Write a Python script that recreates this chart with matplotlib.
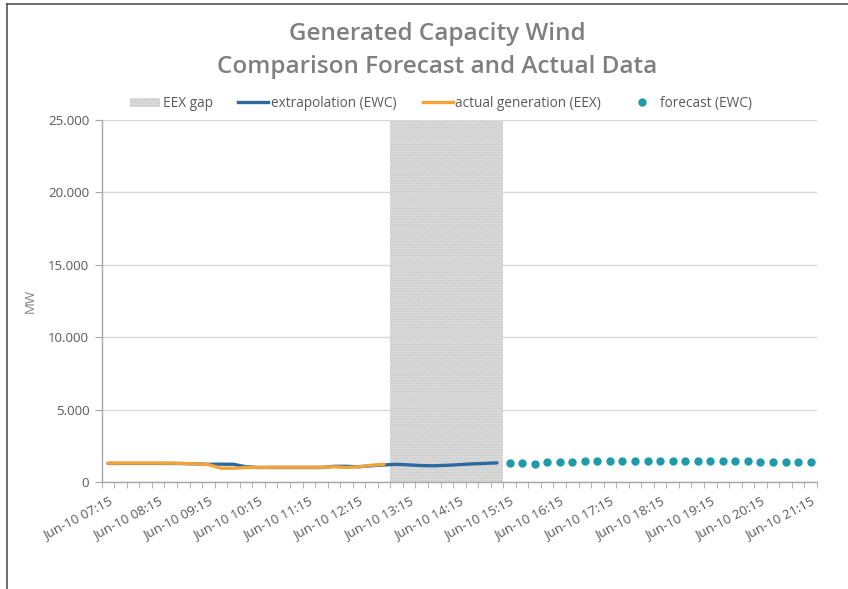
"""Generated wind capacity: EEX actual vs EWC extrapolation / forecast."""

import matplotlib.pyplot as plt
import matplotlib.ticker as mticker
from matplotlib.lines import Line2D
from matplotlib.patches import Patch
import pandas as pd

plt.rcParams["font.family"] = ["Open Sans", "DejaVu Sans"]
plt.rcParams["hatch.linewidth"] = 0.6

# ── Data (MW, 15-minute slots on Jun-10) ──────────────────────────────── #

slots = pd.date_range("2010-06-10 07:15", "2010-06-10 21:15", freq="15min")
times = [t.strftime("%H:%M") for t in slots]

actual_start = "07:15"
actual_mw = [1300, 1300, 1300, 1300, 1300, 1300, 1280, 1250, 1200, 950,
             950, 1000, 1000, 1020, 1020, 1020, 1020, 1020, 1050, 1000,
             1050, 1150, 1220]

extrap_start = "07:15"
extrap_mw = [1280, 1280, 1280, 1280, 1280, 1280, 1270, 1250, 1220, 1230,
             1220, 1050, 1000, 1000, 1000, 1000, 1000, 1000, 1080, 1080,
             1050, 1120, 1180, 1220, 1180, 1130, 1120, 1150, 1200, 1250,
             1280, 1320]

forecast_start = "15:15"
forecast_mw = [1300, 1280, 1270, 1350, 1350, 1360, 1420, 1430, 1440, 1440,
               1440, 1440, 1440, 1440, 1440, 1440, 1430, 1430, 1420, 1420,
               1410, 1400, 1360, 1350, 1350]

gap_start, gap_end = "13:00", "15:00"
gap_mw = 25000

label_every = 4

# ── Figure ─────────────────────────────────────────────────────────────── #

GREY_TXT = "#7f7f7f"
AX_GREY = "#a6a6a6"

fig = plt.figure(figsize=(8.48, 5.89), dpi=100)
ax = fig.add_axes([0.120, 0.1817, 0.8434, 0.6146])

x_all = list(range(len(times)))

i0, i1 = times.index(gap_start), times.index(gap_end)
gap_x = x_all[i0:i1 + 1]
ax.bar(gap_x, [gap_mw] * len(gap_x), width=1.0, color="#dadada",
       edgecolor="#c4c4c4", hatch="......", linewidth=0, zorder=1)

i = times.index(extrap_start)
ax.plot(x_all[i:i + len(extrap_mw)], extrap_mw, color="#2b6aa0",
        linewidth=2.4, solid_capstyle="round", zorder=3)
i = times.index(actual_start)
ax.plot(x_all[i:i + len(actual_mw)], actual_mw, color="#f2a33a",
        linewidth=2.4, solid_capstyle="round", zorder=4)
i = times.index(forecast_start)
ax.plot(x_all[i:i + len(forecast_mw)], forecast_mw, linestyle="none",
        marker="o", markersize=5, color="#1f9aaa", zorder=5)

ax.set_xlim(-0.5, len(times) - 0.5)
ax.set_ylim(0, 25000)

ax.yaxis.set_major_locator(mticker.MultipleLocator(5000))
ax.yaxis.set_major_formatter(
    mticker.FuncFormatter(lambda v, _: f"{int(v):,}".replace(",", ".")))
ax.grid(axis="y", color="#d9d9d9", linewidth=1.0, zorder=0)
ax.set_axisbelow(True)

lab_idx = x_all[::label_every]
ax.set_xticks(lab_idx)
ax.set_xticklabels([f"Jun-10 {times[k]}" for k in lab_idx], rotation=28,
                   ha="right", rotation_mode="anchor")
ax.set_xticks([k - 0.5 for k in range(len(times) + 1)], minor=True)
ax.tick_params(axis="x", which="major", length=0, pad=9)
ax.tick_params(axis="x", which="minor", length=4, color=AX_GREY)
ax.tick_params(axis="y", length=5, color=AX_GREY, pad=4)
ax.tick_params(labelsize=9.5, labelcolor="#595959")

for side in ("top", "right"):
    ax.spines[side].set_visible(False)
for side in ("left", "bottom"):
    ax.spines[side].set_color(AX_GREY)
    ax.spines[side].set_linewidth(1.0)

ax.set_ylabel("MW", color=GREY_TXT, fontsize=9.5, labelpad=8)

handles = [
    Patch(facecolor="#dadada", edgecolor="#c4c4c4", hatch="......",
          linewidth=0, label="EEX gap"),
    Line2D([], [], color="#2b6aa0", linewidth=2.4, label="extrapolation (EWC)"),
    Line2D([], [], color="#f2a33a", linewidth=2.4,
           label="actual generation (EEX)"),
    Line2D([], [], color="#1f9aaa", linestyle="none", marker="o",
           markersize=5, label="forecast (EWC)"),
]
ax.legend(handles=handles, loc="center", bbox_to_anchor=(0.474, 1.045),
          ncol=4, frameon=False, fontsize=9.8, labelcolor="#595959",
          handlelength=2.2, handletextpad=0.2, columnspacing=1.9)

fig.text(0.516, 0.943, "Generated Capacity Wind", ha="center", va="center",
         fontsize=17.5, fontweight="semibold", color=GREY_TXT)
fig.text(0.516, 0.887, "Comparison Forecast and Actual Data", ha="center",
         va="center", fontsize=17.5, fontweight="semibold", color=GREY_TXT)

# chart frame (left and top edges visible in the source screenshot)
fig.add_artist(Line2D([0.008, 0.008], [0.0, 0.993], color="#555555",
                      linewidth=1.2, transform=fig.transFigure))
fig.add_artist(Line2D([0.008, 1.0], [0.993, 0.993], color="#555555",
                      linewidth=1.2, transform=fig.transFigure))

fig.savefig("out.png", dpi=100)
